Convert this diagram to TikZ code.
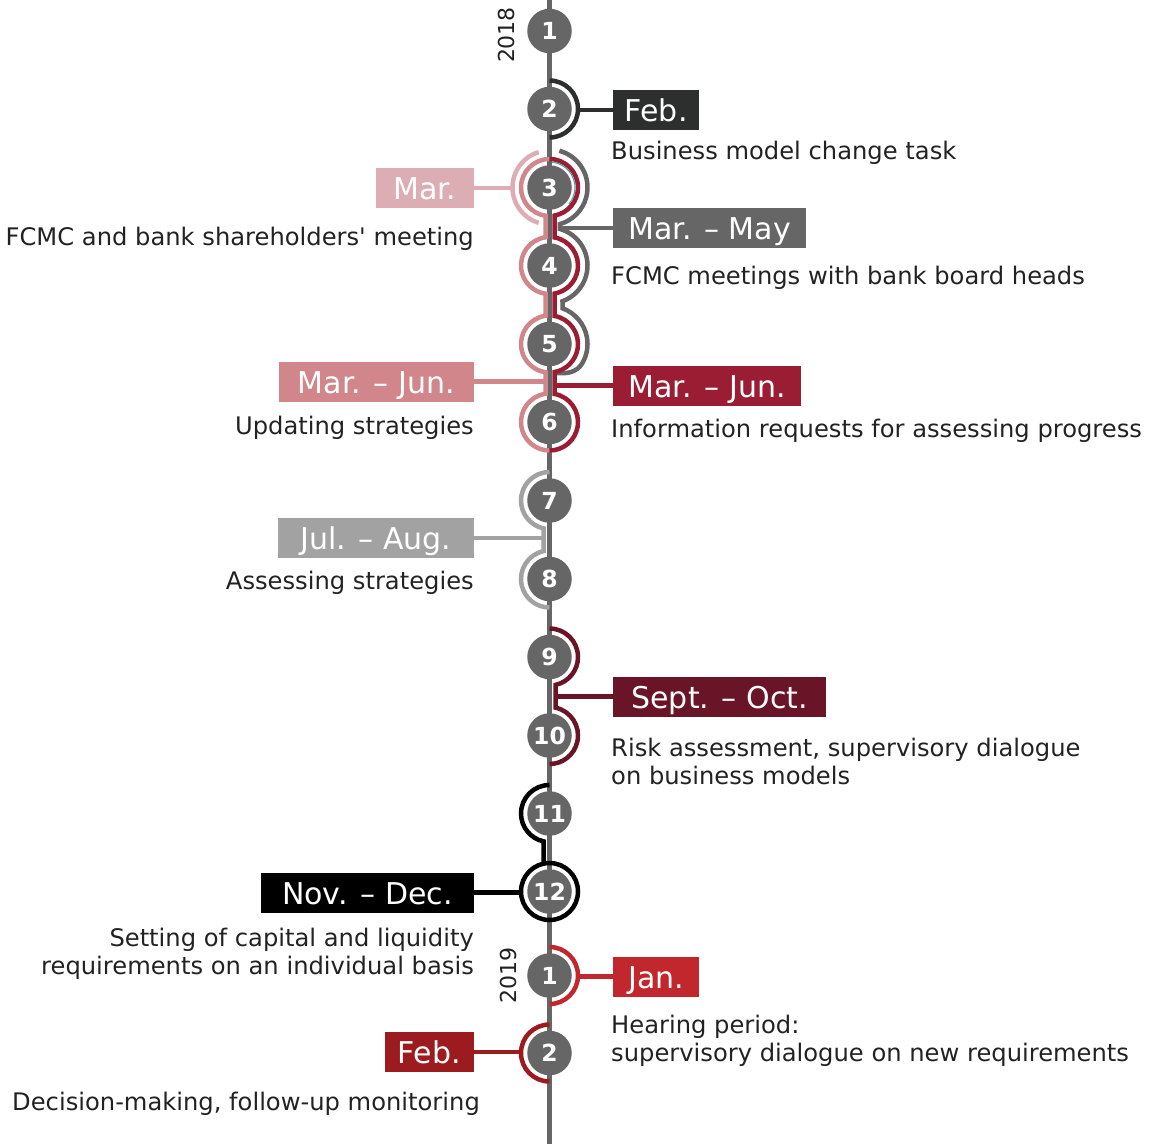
\documentclass[tikz,border=0pt]{standalone}
\usepackage{fontspec}
\setmainfont{DejaVu Sans}
\definecolor{mgrey}{HTML}{666666}
\definecolor{cdark}{HTML}{2D2F2E}
\definecolor{lpink}{HTML}{DCAEB4}
\definecolor{cpink}{HTML}{D0868A}
\definecolor{cred}{HTML}{9B1D33}
\definecolor{lgrey}{HTML}{A2A2A2}
\definecolor{maroon}{HTML}{6A1527}
\definecolor{janred}{HTML}{C1272D}
\definecolor{febred}{HTML}{9B1B1F}
\definecolor{cteal}{HTML}{3FA3A8}
\definecolor{txt}{HTML}{222222}
\begin{document}
\begin{tikzpicture}[x=1pt,y=1pt,
  num/.style={circle,fill=mgrey,minimum size=44.5pt,inner sep=0pt,text=white,font=\fontsize{23.5}{23.5}\selectfont\bfseries},
  tag/.style={fill=#1,text=white,minimum height=40pt,inner xsep=0pt,inner ysep=0pt,text height=31.7pt,text depth=8.3pt,font=\fontsize{30}{30}\selectfont},
  desc/.style={text=txt,inner sep=0pt,font=\fontsize{24.2}{29}\selectfont},
  yearlbl/.style={text=txt,inner sep=0pt,rotate=90,font=\fontsize{22}{22}\selectfont},
  arcline/.style={line width=4.5pt,draw=#1},
  link/.style={line width=4.5pt,draw=#1},
]
\useasboundingbox (0,0) rectangle (1154,-1144);

% main timeline
\coordinate (top) at (549.5,0);
\coordinate (bot) at (549.5,-1144);
\draw[mgrey,line width=5pt] (top) -- (bot);

% ---- coloured brackets ----
% 2018-2 (Feb.)
\draw[arcline=cdark] (549.5,-80.5) arc[start angle=90,end angle=-90,radius=28.5pt];
\coordinate (a2) at (578,-110);

% Mar. (light pink, circle 3)
\draw[arcline=lpink] (538.68,-152.12) arc[start angle=107,end angle=253,radius=37pt];
\coordinate (a3) at (512.5,-188);

% Mar. - May (grey outer, circles 3-5)
\draw[arcline=mgrey] (559.34,-150.79) arc[start angle=75,end angle=-74,radius=38pt]
  -- (559.97,-228.97) arc[start angle=74,end angle=-70,radius=38pt]
  -- (562.5,-308.29) arc[start angle=70,end angle=-30,radius=38pt]
  to[out=-120,in=-5] (557,-373);
\coordinate (a35) at (560,-228);

% Mar. - Jun. (pink, left, circles 3-6)
\draw[arcline=cpink] (549.5,-159) arc[start angle=90,end angle=261.93,radius=28.5pt]
  -- (545.5,-237.28) arc[start angle=98.07,end angle=261.93,radius=28.5pt]
  -- (545.5,-315.78) arc[start angle=98.07,end angle=261.93,radius=28.5pt]
  -- (545.5,-393.78) arc[start angle=98.07,end angle=270,radius=28.5pt];
\coordinate (a36l) at (545.5,-381.7);

% Mar. - Jun. (red, right, circles 3-6)
\draw[arcline=cred] (549.5,-159) arc[start angle=90,end angle=-79.9,radius=28.5pt]
  -- (554.5,-237.44) arc[start angle=79.9,end angle=-79.9,radius=28.5pt]
  -- (554.5,-315.94) arc[start angle=79.9,end angle=-79.9,radius=28.5pt]
  -- (554.5,-393.94) arc[start angle=79.9,end angle=-90,radius=28.5pt];
\coordinate (a36r) at (554.5,-385.5);
\draw[cteal,line width=1.1pt] (551.7,-162.1) arc[start angle=85,end angle=-40,radius=25.5pt];

% Jul. - Aug. (light grey, circles 7-8)
\draw[arcline=lgrey] (549.5,-472) arc[start angle=90,end angle=257.84,radius=28.5pt]
  -- (543.5,-551.14) arc[start angle=102.16,end angle=270,radius=28.5pt];
\coordinate (a78) at (543.5,-538);

% Sept. - Oct. (maroon, circles 9-10)
\draw[arcline=maroon] (549.5,-628.5) arc[start angle=90,end angle=-77.84,radius=28.5pt]
  -- (555.5,-707.64) arc[start angle=77.84,end angle=-90,radius=28.5pt];
\coordinate (a910) at (555.5,-696.5);

% Nov. - Dec. (black, circles 11-12)
\draw[arcline=black] (549.5,-785) arc[start angle=90,end angle=257.84,radius=28.5pt]
  -- (543.5,-863.64);
\draw[arcline=black] (549.5,-891.5) circle[radius=28.5pt];
\coordinate (a1112) at (521,-892.5);

% 2019-1 Jan.
\draw[arcline=janred] (549.5,-947) arc[start angle=90,end angle=-90,radius=28.5pt];
\coordinate (b1) at (578,-976.5);

% 2019-2 Feb.
\draw[arcline=febred] (549.5,-1024.5) arc[start angle=90,end angle=270,radius=28.5pt];
\coordinate (b2) at (521,-1052);

% ---- circles ----
\node[num] (n1) at (549.5,-31) {1};
\node[num] (n2) at (549.5,-109) {2};
\node[num] (n3) at (549.5,-187.5) {3};
\node[num] (n4) at (549.5,-265.5) {4};
\node[num] (n5) at (549.5,-344) {5};
\node[num] (n6) at (549.5,-422) {6};
\node[num] (n7) at (549.5,-500.5) {7};
\node[num] (n8) at (549.5,-579) {8};
\node[num] (n9) at (549.5,-657) {9};
\node[num] (n10) at (549.5,-735.5) {10};
\node[num] (n11) at (549.5,-813.5) {11};
\node[num] (n12) at (549.5,-891.5) {12};
\node[num] (m1) at (549.5,-975.5) {1};
\node[num] (m2) at (549.5,-1053) {2};

% years
\node[yearlbl] (y18) at (506,-35) {2018};
\node[yearlbl] (y19) at (508,-975) {2019};

% ---- tags ----
\node[tag=cdark,minimum width=86pt,anchor=west] (t1) at (613,-110) {Feb.};
\node[tag=lpink,minimum width=98pt,anchor=east] (t2) at (474,-188) {Mar.};
\node[tag=mgrey,minimum width=193pt,anchor=west] (t3) at (613,-228) {Mar. – May};
\node[tag=cpink,minimum width=195pt,anchor=east] (t4) at (474,-381.7) {Mar. – Jun.};
\node[tag=cred,minimum width=188pt,anchor=west] (t5) at (613,-385.5) {Mar. – Jun.};
\node[tag=lgrey,minimum width=196pt,anchor=east] (t6) at (474,-538) {Jul. – Aug.};
\node[tag=maroon,minimum width=213pt,anchor=west] (t7) at (613,-696.5) {Sept. – Oct.};
\node[tag=black,minimum width=213pt,anchor=east] (t8) at (474,-892.5) {Nov. – Dec.};
\node[tag=janred,minimum width=86pt,anchor=west] (t9) at (613,-976.5) {Jan.};
\node[tag=febred,minimum width=89pt,anchor=east] (t10) at (474,-1052) {Feb.};

% ---- connectors ----
\draw[link=cdark] (a2) -- (t1.west);
\draw[link=lpink] (t2.east) -- (a3);
\draw[link=mgrey] (a35) -- (t3.west);
\draw[link=cpink] (t4.east) -- (a36l);
\draw[link=cred] (a36r) -- (t5.west);
\draw[link=lgrey] (t6.east) -- (a78);
\draw[link=maroon] (a910) -- (t7.west);
\draw[link=black] (t8.east) -- (a1112);
\draw[link=janred] (b1) -- (t9.west);
\draw[link=febred] (t10.east) -- (b2);

% ---- descriptions ----
\node[desc,anchor=base west] (d1) at (611,-159) {Business model change task};
\node[desc,anchor=base east] (d2) at (474,-245) {FCMC and bank shareholders\textquotesingle{} meeting};
\node[desc,anchor=base west] (d3) at (611,-284) {FCMC meetings with bank board heads};
\node[desc,anchor=base east] (d4) at (474,-434) {Updating strategies};
\node[desc,anchor=base west] (d5) at (611,-437) {Information requests for assessing progress};
\node[desc,anchor=base east] (d6) at (474,-589) {Assessing strategies};
\node[desc,anchor=base west] (d7a) at (611,-756) {Risk assessment, supervisory dialogue};
\node[desc,anchor=base west] (d7b) at (611,-784) {on business models};
\node[desc,anchor=base east] (d8a) at (474,-946) {Setting of capital and liquidity};
\node[desc,anchor=base east] (d8b) at (474,-974) {requirements on an individual basis};
\node[desc,anchor=base west] (d9a) at (611,-1033) {Hearing period:};
\node[desc,anchor=base west] (d9b) at (611,-1061) {supervisory dialogue on new requirements};
\node[desc,anchor=base east] (d10) at (480,-1110) {Decision-making, follow-up monitoring};
\end{tikzpicture}
\end{document}
